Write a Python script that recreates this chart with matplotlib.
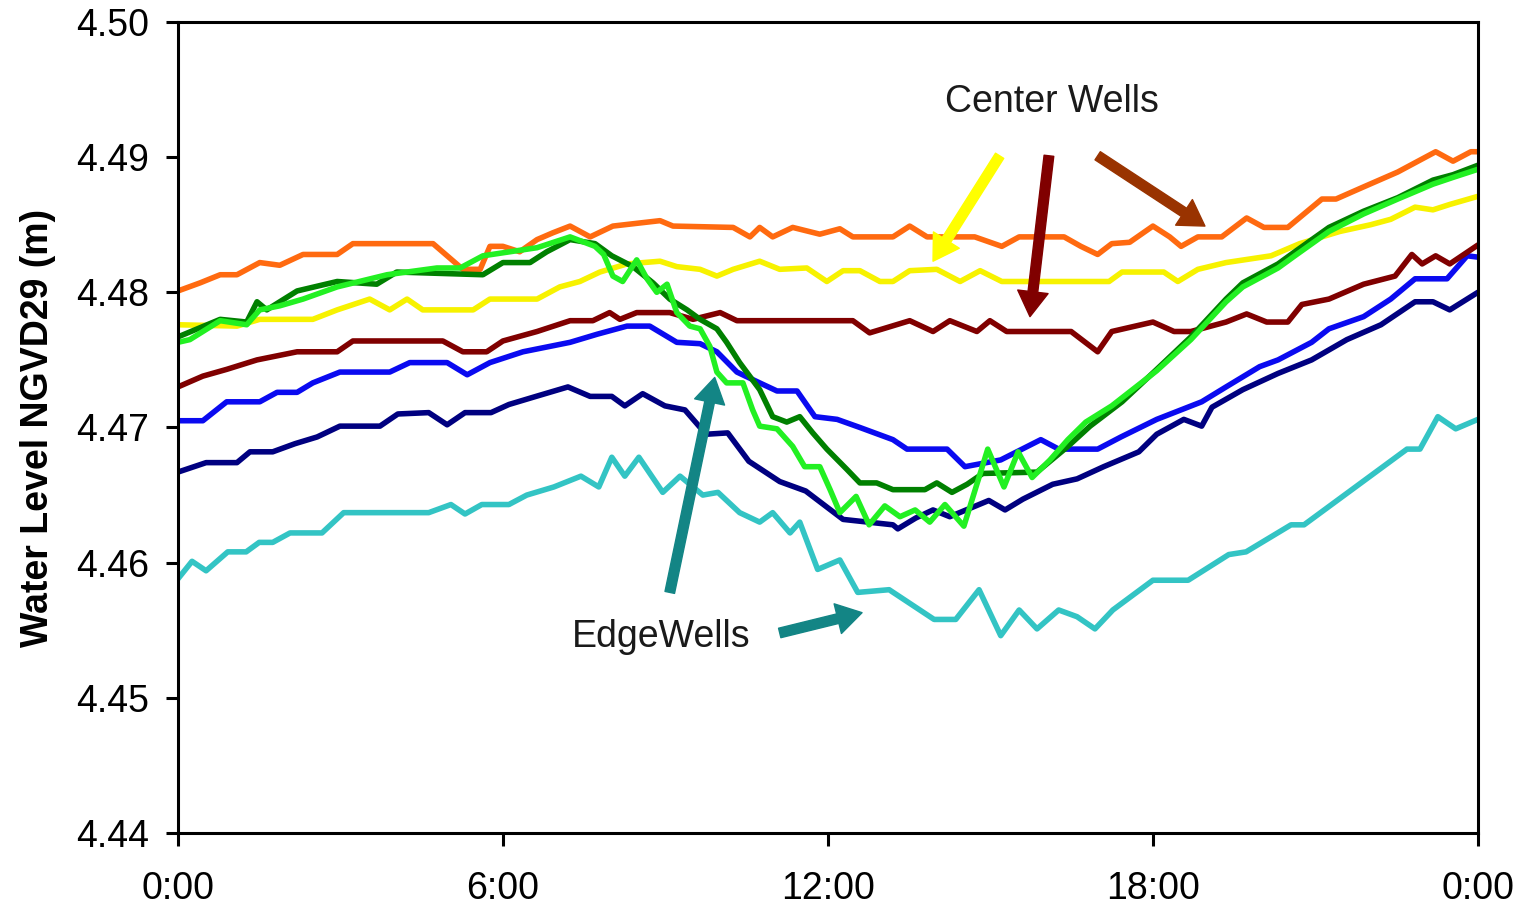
import matplotlib
matplotlib.use("Agg")
import matplotlib.pyplot as plt

plt.rcParams['font.family'] = ['Liberation Sans', 'DejaVu Sans']

# ---- well records: hour of day, water level (m NGVD29) ----
# center wells
orange_h = [0, 0.41, 0.78, 1.09, 1.51, 1.88, 2.31, 2.94, 3.23, 4.71, 5.26, 5.58, 5.76, 6.00, 6.31, 6.63,
            6.92, 7.24, 7.61, 8.03, 8.90, 9.14, 10.25, 10.56, 10.74, 10.98, 11.35, 11.85, 12.22, 12.46,
            13.20, 13.51, 13.83, 14.44, 14.71, 15.21, 15.53, 16.36, 16.67, 16.98, 17.24, 17.57, 18.00,
            18.31, 18.52, 18.83, 19.27, 19.73, 20.05, 20.49, 21.12, 21.38, 21.89, 22.52, 23.22, 23.54,
            23.87, 24.0]
orange_lv = [4.4801, 4.4807, 4.4813, 4.4813, 4.4822, 4.4820, 4.4828, 4.4828, 4.4836, 4.4836, 4.4817,
             4.4817, 4.4834, 4.4834, 4.4830, 4.4839, 4.4844, 4.4849, 4.4841, 4.4849, 4.4853, 4.4849,
             4.4848, 4.4841, 4.4848, 4.4841, 4.4848, 4.4843, 4.4847, 4.4841, 4.4841, 4.4849, 4.4841,
             4.4841, 4.4841, 4.4834, 4.4841, 4.4841, 4.4834, 4.4828, 4.4836, 4.4837, 4.4849, 4.4841,
             4.4834, 4.4841, 4.4841, 4.4855, 4.4848, 4.4848, 4.4869, 4.4869, 4.4878, 4.4889, 4.4904,
             4.4897, 4.4904, 4.4904]

yellow_h = [0, 1.09, 1.51, 2.49, 2.94, 3.54, 3.91, 4.23, 4.52, 5.45, 5.76, 6.63, 7.05, 7.42, 7.79, 8.29,
            8.90, 9.21, 9.64, 9.95, 10.25, 10.74, 11.11, 11.61, 11.98, 12.28, 12.59, 12.96, 13.20, 13.51,
            14.01, 14.44, 14.81, 15.21, 15.53, 17.19, 17.43, 18.20, 18.46, 18.83, 19.35, 20.18, 20.71,
            21.45, 22.02, 22.39, 22.84, 23.17, 23.48, 24.0]
yellow_lv = [4.4776, 4.4775, 4.4780, 4.4780, 4.4787, 4.4795, 4.4787, 4.4795, 4.4787, 4.4787, 4.4795,
             4.4795, 4.4804, 4.4808, 4.4815, 4.4821, 4.4823, 4.4819, 4.4817, 4.4812, 4.4817, 4.4823,
             4.4817, 4.4818, 4.4808, 4.4816, 4.4816, 4.4808, 4.4808, 4.4816, 4.4817, 4.4808, 4.4816,
             4.4808, 4.4808, 4.4808, 4.4815, 4.4815, 4.4808, 4.4817, 4.4822, 4.4827, 4.4836, 4.4845,
             4.4850, 4.4854, 4.4863, 4.4861, 4.4865, 4.4871]

maroon_h = [0, 0.46, 0.90, 1.46, 2.20, 2.94, 3.23, 4.89, 5.26, 5.70, 6.00, 6.63, 7.24, 7.66, 7.97, 8.16,
            8.47, 9.08, 9.51, 10.01, 10.32, 12.46, 12.77, 13.51, 13.94, 14.25, 14.75, 14.99, 15.30,
            16.49, 16.98, 17.24, 18.00, 18.39, 18.70, 19.35, 19.73, 20.10, 20.49, 20.75, 21.25, 21.89,
            22.47, 22.78, 22.97, 23.22, 23.48, 24.0]
maroon_lv = [4.4730, 4.4738, 4.4743, 4.4750, 4.4756, 4.4756, 4.4764, 4.4764, 4.4756, 4.4756, 4.4764,
             4.4771, 4.4779, 4.4779, 4.4785, 4.4780, 4.4785, 4.4785, 4.4780, 4.4785, 4.4779, 4.4779,
             4.4770, 4.4779, 4.4771, 4.4779, 4.4771, 4.4779, 4.4771, 4.4771, 4.4756, 4.4771, 4.4778,
             4.4771, 4.4771, 4.4778, 4.4784, 4.4778, 4.4778, 4.4791, 4.4795, 4.4806, 4.4812, 4.4828,
             4.4821, 4.4827, 4.4821, 4.4835]

# edge wells
blue_h = [0, 0.46, 0.90, 1.51, 1.83, 2.20, 2.49, 2.99, 3.91, 4.28, 4.97, 5.34, 5.76, 6.37, 7.24, 7.74,
          8.29, 8.71, 9.21, 9.64, 9.95, 10.32, 10.74, 11.06, 11.43, 11.76, 12.17, 12.59, 13.20, 13.46,
          14.20, 14.53, 15.19, 15.93, 16.26, 16.98, 17.41, 18.07, 18.90, 19.35, 19.97, 20.31, 20.93,
          21.25, 21.89, 22.39, 22.84, 23.43, 23.80, 24.0]
blue_lv = [4.4705, 4.4705, 4.4719, 4.4719, 4.4726, 4.4726, 4.4733, 4.4741, 4.4741, 4.4748, 4.4748,
           4.4739, 4.4748, 4.4756, 4.4763, 4.4769, 4.4775, 4.4775, 4.4763, 4.4762, 4.4756, 4.4741,
           4.4733, 4.4727, 4.4727, 4.4708, 4.4706, 4.4700, 4.4691, 4.4684, 4.4684, 4.4671, 4.4676,
           4.4691, 4.4684, 4.4684, 4.4693, 4.4706, 4.4719, 4.4730, 4.4745, 4.4750, 4.4763, 4.4773,
           4.4782, 4.4795, 4.4810, 4.4810, 4.4827, 4.4826]

navy_h = [0, 0.52, 1.09, 1.33, 1.75, 2.16, 2.57, 2.99, 3.73, 4.06, 4.63, 4.97, 5.30, 5.78, 6.11, 6.61,
          7.20, 7.61, 8.01, 8.25, 8.58, 8.99, 9.36, 9.75, 10.15, 10.54, 11.11, 11.59, 12.28, 13.20,
          13.29, 13.62, 13.94, 14.25, 14.97, 15.27, 15.60, 16.15, 16.60, 17.09, 17.74, 18.07, 18.57,
          18.90, 19.09, 19.66, 20.31, 20.93, 21.58, 22.21, 22.84, 23.17, 23.48, 24.0]
navy_lv = [4.4667, 4.4674, 4.4674, 4.4682, 4.4682, 4.4688, 4.4693, 4.4701, 4.4701, 4.4710, 4.4711,
           4.4702, 4.4711, 4.4711, 4.4717, 4.4723, 4.4730, 4.4723, 4.4723, 4.4716, 4.4725, 4.4716,
           4.4713, 4.4695, 4.4696, 4.4675, 4.4660, 4.4653, 4.4632, 4.4628, 4.4625, 4.4633, 4.4639,
           4.4634, 4.4646, 4.4639, 4.4647, 4.4658, 4.4662, 4.4671, 4.4682, 4.4695, 4.4706, 4.4701,
           4.4715, 4.4728, 4.4740, 4.4750, 4.4765, 4.4776, 4.4793, 4.4793, 4.4787, 4.4800]

cyan_h = [0, 0.26, 0.52, 0.92, 1.26, 1.50, 1.75, 2.07, 2.66, 3.06, 4.63, 5.04, 5.30, 5.61, 6.11, 6.44,
          6.94, 7.44, 7.77, 8.01, 8.25, 8.51, 8.95, 9.27, 9.69, 9.97, 10.37, 10.74, 10.98, 11.30, 11.48,
          11.81, 12.22, 12.55, 13.13, 13.96, 14.36, 14.79, 15.19, 15.53, 15.86, 16.26, 16.60, 16.93,
          17.26, 18.00, 18.65, 19.40, 19.72, 20.55, 20.79, 22.69, 22.93, 23.26, 23.59, 24.0]
cyan_lv = [4.4588, 4.4601, 4.4594, 4.4608, 4.4608, 4.4615, 4.4615, 4.4622, 4.4622, 4.4637, 4.4637,
           4.4643, 4.4636, 4.4643, 4.4643, 4.4650, 4.4656, 4.4664, 4.4656, 4.4678, 4.4664, 4.4678,
           4.4652, 4.4664, 4.4650, 4.4652, 4.4637, 4.4630, 4.4637, 4.4622, 4.4630, 4.4595, 4.4602,
           4.4578, 4.4580, 4.4558, 4.4558, 4.4580, 4.4546, 4.4565, 4.4551, 4.4565, 4.4560, 4.4551,
           4.4565, 4.4587, 4.4587, 4.4606, 4.4608, 4.4628, 4.4628, 4.4684, 4.4684, 4.4708, 4.4699,
           4.4706]

dkgreen_h = [0, 0.78, 1.27, 1.46, 1.64, 2.20, 2.94, 3.67, 4.04, 5.63, 6.00, 6.50, 6.81, 7.24, 7.70, 8.01,
             8.40, 8.77, 9.08, 9.40, 9.64, 9.95, 10.13, 10.37, 10.74, 10.98, 11.24, 11.48, 11.72, 11.98,
             12.35, 12.59, 12.90, 13.20, 13.79, 14.01, 14.29, 14.57, 14.86, 15.86, 16.43, 16.84, 17.43,
             18.07, 18.70, 19.35, 19.66, 20.31, 20.62, 21.25, 21.89, 22.52, 23.17, 23.54, 24.0]
dkgreen_lv = [4.4767, 4.4780, 4.4778, 4.4793, 4.4787, 4.4801, 4.4808, 4.4806, 4.4815, 4.4813, 4.4822,
              4.4822, 4.4830, 4.4839, 4.4836, 4.4827, 4.4819, 4.4807, 4.4795, 4.4787, 4.4780, 4.4773,
              4.4763, 4.4748, 4.4728, 4.4708, 4.4704, 4.4708, 4.4696, 4.4684, 4.4669, 4.4659, 4.4659,
              4.4654, 4.4654, 4.4659, 4.4652, 4.4658, 4.4666, 4.4667, 4.4686, 4.4701, 4.4719, 4.4743,
              4.4767, 4.4795, 4.4807, 4.4821, 4.4830, 4.4848, 4.4860, 4.4870, 4.4883, 4.4887, 4.4894]

ltgreen_h = [0, 0.22, 0.78, 1.27, 1.51, 1.88, 2.31, 2.94, 3.86, 4.78, 5.21, 5.63, 6.63, 7.24, 7.70, 7.86,
             8.03, 8.21, 8.47, 8.66, 8.84, 9.03, 9.21, 9.45, 9.64, 9.82, 9.95, 10.13, 10.43, 10.61, 10.74,
             11.06, 11.35, 11.57, 11.85, 12.04, 12.22, 12.52, 12.76, 13.05, 13.33, 13.61, 13.88, 14.16,
             14.51, 14.95, 15.25, 15.51, 15.77, 16.10, 16.43, 16.76, 17.24, 18.07, 18.70, 19.35, 19.66,
             20.31, 20.62, 21.25, 21.89, 22.52, 23.17, 23.54, 24.0]
ltgreen_lv = [4.4763, 4.4765, 4.4779, 4.4776, 4.4787, 4.4790, 4.4795, 4.4804, 4.4813, 4.4818, 4.4818,
              4.4827, 4.4833, 4.4841, 4.4834, 4.4828, 4.4812, 4.4808, 4.4824, 4.4810, 4.4800, 4.4806,
              4.4785, 4.4775, 4.4773, 4.4760, 4.4741, 4.4733, 4.4733, 4.4713, 4.4701, 4.4699, 4.4686,
              4.4671, 4.4671, 4.4654, 4.4637, 4.4649, 4.4628, 4.4642, 4.4634, 4.4639, 4.4630, 4.4643,
              4.4627, 4.4684, 4.4656, 4.4682, 4.4663, 4.4676, 4.4691, 4.4704, 4.4716, 4.4742, 4.4765,
              4.4793, 4.4804, 4.4818, 4.4827, 4.4845, 4.4858, 4.4869, 4.4880, 4.4885, 4.4891]

tick_hours = [0, 6, 12, 18, 24]
tick_labels = ['0:00', '6:00', '12:00', '18:00', '0:00']
level_ticks = [4.44, 4.45, 4.46, 4.47, 4.48, 4.49, 4.50]

fig = plt.figure(figsize=(15.26, 9.11), dpi=100)
ax = fig.add_axes([0.1166, 0.0856, 0.8519, 0.8903])

lw = 4.0
series = [
    (cyan_h, cyan_lv, '#33c4c4'),
    (navy_h, navy_lv, '#000080'),
    (blue_h, blue_lv, '#0a0af0'),
    (maroon_h, maroon_lv, '#800000'),
    (yellow_h, yellow_lv, '#f7f200'),
    (orange_h, orange_lv, '#ff6a10'),
    (dkgreen_h, dkgreen_lv, '#008000'),
    (ltgreen_h, ltgreen_lv, '#22f022'),
]
for hh, lv, col in series:
    ax.plot(hh, lv, color=col, lw=lw, solid_joinstyle='round', solid_capstyle='round')

ax.set_xlim(0, 24)
ax.set_ylim(4.44, 4.50)
ax.set_xticks(tick_hours)
ax.set_xticklabels(tick_labels)
ax.set_yticks(level_ticks)
ax.set_yticklabels(['%.2f' % v for v in level_ticks])
ax.tick_params(direction='out', length=9, width=2.2, labelsize=27, color='black')
ax.tick_params(axis='x', pad=18)
ax.tick_params(axis='y', pad=12)
for sp in ax.spines.values():
    sp.set_linewidth(2.2)

ax.set_ylabel('Water Level NGVD29 (m)', fontsize=27, fontweight='bold', labelpad=14)

# annotation arrows
def arrow(tail, tip, col):
    ax.annotate('', xy=tip, xytext=tail,
                arrowprops=dict(facecolor=col, edgecolor=col, width=7, headwidth=22,
                                headlength=18, shrink=0))

ax.text(16.13, 4.4941, 'Center Wells', fontsize=27, ha='center', va='center', color='#1a1a1a')
arrow((15.17, 4.4901), (13.94, 4.4823), '#ffff00')
arrow((16.08, 4.4901), (15.73, 4.4782), '#800000')
arrow((16.98, 4.4901), (18.96, 4.4849), '#993300')

ax.text(8.93, 4.4545, 'EdgeWells', fontsize=27, ha='center', va='center', color='#1a1a1a')
arrow((9.08, 4.4578), (9.91, 4.4737), '#138585')
arrow((11.11, 4.4548), (12.63, 4.4563), '#138585')

fig.savefig('out.png', dpi=100)
